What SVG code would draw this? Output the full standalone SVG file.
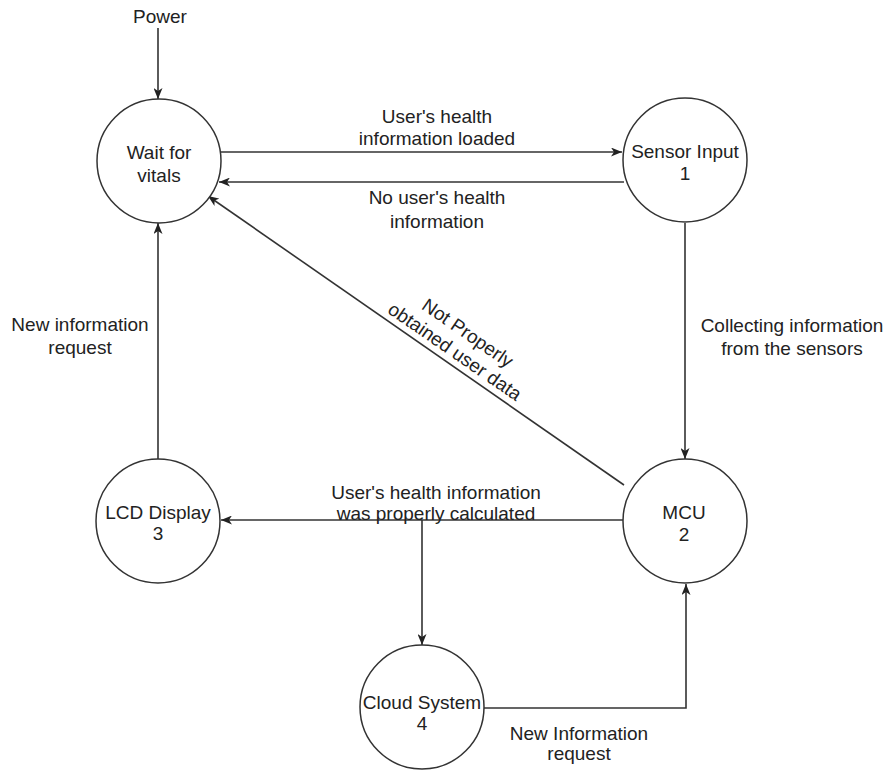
<svg xmlns="http://www.w3.org/2000/svg" width="888" height="771" viewBox="0 0 888 771">
  <defs>
    <marker id="arrow" viewBox="0 0 11 9" refX="11" refY="4.5" markerWidth="11" markerHeight="9" markerUnits="userSpaceOnUse" orient="auto">
      <path d="M0,0 L11,4.5 L0,9 L3,4.5 Z" fill="#222"/>
    </marker>
    <style>
      .edge { fill: none; stroke: #333; stroke-width: 1.6; }
      .arrowed { marker-end: url(#arrow); }
      .node circle { fill: #fff; stroke: #333; stroke-width: 1.5; }
      text { font-family: "Liberation Sans", Arial, sans-serif; font-size: 19px; fill: #222; text-anchor: middle; }
    </style>
  </defs>
  <rect width="888" height="771" fill="#fff"/>

  <!-- connectors -->
  <g id="connectors">
    <path class="edge arrowed" d="M158,28 L158,99"/>
    <path class="edge arrowed" d="M221,152 L622,152"/>
    <path class="edge arrowed" d="M624,182 L219,182"/>
    <path class="edge arrowed" d="M685,223 L685,459"/>
    <path class="edge arrowed" d="M624,485 L208,196"/>
    <path class="edge arrowed" d="M623,520 L221,520"/>
    <path class="edge arrowed" d="M422,520 L422,645"/>
    <path class="edge arrowed" d="M484,708 L686,708 L686,584"/>
    <path class="edge arrowed" d="M158,459 L158,223"/>

    <text x="160" y="23">Power</text>
    <text x="437" y="123">User's health</text>
    <text x="437" y="145">information loaded</text>
    <text x="437" y="204">No user's health</text>
    <text x="437" y="228">information</text>
    <text x="792" y="332">Collecting information</text>
    <text x="792" y="355">from the sensors</text>
    <text x="80" y="331">New information</text>
    <text x="80" y="354">request</text>
    <g transform="translate(461.5,342) rotate(34.6)">
      <text x="0" y="-4.5" fill="#444">Not Properly</text>
      <text x="0" y="18" fill="#444">obtained user data</text>
    </g>
    <text x="436" y="499">User's health information</text>
    <text x="436" y="520">was properly calculated</text>
    <text x="579" y="740">New Information</text>
    <text x="579" y="760">request</text>
  </g>

  <!-- states -->
  <g id="wait-for-vitals" class="node">
    <circle cx="159" cy="161" r="62"/>
    <text x="159" y="159">Wait for</text>
    <text x="159" y="182">vitals</text>
  </g>
  <g id="sensor-input" class="node">
    <circle cx="685" cy="160" r="62"/>
    <text x="685" y="158">Sensor Input</text>
    <text x="685" y="180">1</text>
  </g>
  <g id="mcu" class="node">
    <circle cx="685" cy="521" r="62"/>
    <text x="684" y="519">MCU</text>
    <text x="684" y="541">2</text>
  </g>
  <g id="lcd-display" class="node">
    <circle cx="158" cy="521" r="62"/>
    <text x="158" y="519">LCD Display</text>
    <text x="158" y="540">3</text>
  </g>
  <g id="cloud-system" class="node">
    <circle cx="422" cy="707" r="62"/>
    <text x="422" y="709">Cloud System</text>
    <text x="422" y="730">4</text>
  </g>
</svg>
